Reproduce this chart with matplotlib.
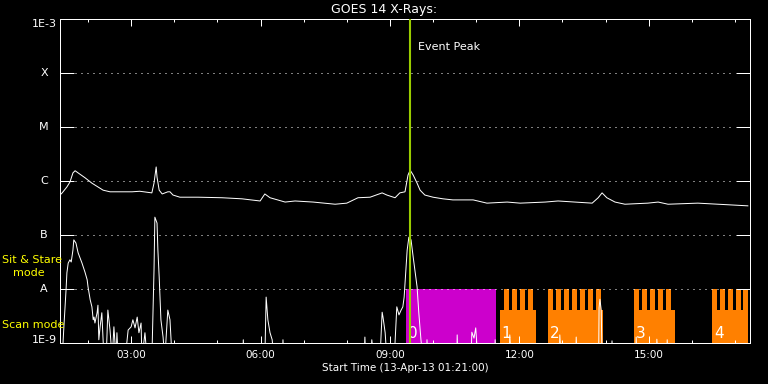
import numpy as np
import matplotlib
matplotlib.use("Agg")
import matplotlib.pyplot as plt
from matplotlib.ticker import FixedLocator, NullLocator, FixedFormatter

# GOES 14 X-ray flux, time in hours since 00:00 on 13-Apr-13, flux as log10(W/m^2)
T_START = 1.35   # 01:21
T_END = 17.35
EVENT_PEAK = 9.47

LONG_T = [1.35, 1.40, 1.51, 1.58, 1.65, 1.70, 1.77, 1.93, 2.09, 2.23, 2.35, 2.51, 3.02, 3.20,
          3.48, 3.53, 3.58, 3.60, 3.65, 3.72, 3.85, 3.90, 3.97, 4.13, 4.55, 5.11, 5.57, 5.99,
          6.10, 6.22, 6.57, 6.80, 7.22, 7.73, 8.00, 8.26, 8.54, 8.82, 8.93, 9.12, 9.23, 9.35,
          9.42, 9.47, 9.54, 9.63, 9.70, 9.81, 10.00, 10.23, 10.46, 10.93, 11.25, 11.72, 12.02,
          12.60, 12.90, 13.29, 13.69, 13.83, 13.92, 14.03, 14.22, 14.45, 14.98, 15.22, 15.45,
          16.14, 16.84, 17.30]
LONG_LOG = [-6.26, -6.22, -6.11, -6.02, -5.85, -5.81, -5.85, -5.94, -6.04, -6.11, -6.17, -6.20,
            -6.20, -6.19, -6.22, -6.04, -5.74, -5.93, -6.17, -6.24, -6.20, -6.20, -6.26, -6.30,
            -6.30, -6.31, -6.33, -6.37, -6.24, -6.31, -6.39, -6.37, -6.39, -6.43, -6.41, -6.31,
            -6.30, -6.22, -6.26, -6.31, -6.22, -6.20, -5.89, -5.80, -5.89, -6.04, -6.17, -6.26,
            -6.30, -6.33, -6.35, -6.35, -6.41, -6.39, -6.41, -6.39, -6.37, -6.39, -6.41, -6.31,
            -6.22, -6.31, -6.39, -6.43, -6.41, -6.39, -6.43, -6.41, -6.44, -6.46]

SHORT_T = [1.35, 1.40, 1.44, 1.49, 1.51, 1.54, 1.58, 1.61, 1.65, 1.67, 1.72, 1.77, 1.86, 1.93,
           1.98, 2.00, 2.05, 2.09, 2.12, 2.14, 2.16, 2.21, 2.23, 2.25, 2.28, 2.32, 2.37, 2.42,
           2.46, 2.51, 2.56, 2.60, 2.65, 2.67, 2.70, 2.86, 2.93, 3.00, 3.04, 3.09, 3.14, 3.18,
           3.23, 3.25, 3.32, 3.37, 3.48, 3.53, 3.55, 3.60, 3.62, 3.65, 3.69, 3.74, 3.78, 3.85,
           3.90, 3.95,
           5.59, 5.60, 5.62,
           6.10, 6.13, 6.17, 6.22, 6.27, 6.31,
           6.51, 6.52, 6.54,
           8.40, 8.42, 8.44,
           8.56, 8.58, 8.63,
           8.77, 8.82, 8.84, 8.89, 8.93,
           9.10, 9.16, 9.21, 9.26, 9.30, 9.33, 9.37, 9.40, 9.44, 9.49, 9.54, 9.63, 9.67, 9.72, 9.77,
           9.85, 9.86, 9.88,
           10.55, 10.56, 10.58,
           10.88, 10.90, 10.95, 10.99, 11.04,
           11.43, 11.44, 11.46,
           11.77, 11.78, 11.81,
           12.93, 12.94, 12.97,
           13.31, 13.32, 13.34,
           13.84, 13.85, 13.87, 13.90, 13.92,
           14.14, 14.15, 14.17,
           14.70, 14.71, 14.73,
           15.18, 15.19, 15.22,
           15.42, 15.43, 15.45,
           17.35]
SHORT_LOG = [-9.3, -9.3, -8.70, -8.02, -7.70, -7.52, -7.46, -7.50, -7.28, -7.09, -7.15, -7.33,
             -7.52, -7.69, -7.83, -7.96, -8.20, -8.33, -8.57, -8.52, -8.63, -8.44, -8.30, -8.94,
             -8.70, -8.44, -9.3, -9.3, -8.39, -8.76, -9.3, -8.70, -9.3, -8.81, -9.3, -9.3, -8.76,
             -8.70, -8.57, -8.72, -8.52, -8.81, -8.63, -9.3, -8.81, -9.3, -9.3, -7.65, -6.67,
             -6.78, -7.28, -7.78, -8.57, -8.89, -9.3, -8.39, -8.57, -9.3,
             -9.3, -8.94, -9.3,
             -9.3, -8.15, -8.57, -8.81, -8.94, -9.3,
             -9.3, -8.94, -9.3,
             -9.3, -8.89, -9.3,
             -9.3, -8.94, -9.3,
             -9.3, -8.43, -8.52, -8.81, -9.3,
             -9.3, -8.33, -8.48, -8.39, -8.33, -8.15, -7.65, -7.28, -7.04, -7.09, -7.41, -7.96,
             -8.44, -8.94, -9.3,
             -9.3, -8.94, -9.3,
             -9.3, -8.85, -9.3,
             -9.3, -8.80, -8.91, -8.72, -9.3,
             -9.3, -8.94, -9.3,
             -9.3, -8.85, -9.3,
             -9.3, -8.85, -9.3,
             -9.3, -8.89, -9.3,
             -9.3, -8.35, -8.19, -8.39, -9.3,
             -9.3, -8.96, -9.3,
             -9.3, -8.89, -9.3,
             -9.3, -8.93, -9.3,
             -9.3, -8.94, -9.3,
             -9.3]

# observing modes
SIT_STARE = (9.37, 11.46)
SCAN_BLOCKS = [(11.55, 12.39), (12.67, 13.94), (14.66, 15.61), (16.47, 17.30)]
SCAN_TEETH = [[11.65, 11.83, 12.02, 12.20],
              [12.67, 12.86, 13.04, 13.23, 13.41, 13.60, 13.79],
              [14.66, 14.85, 15.03, 15.22, 15.40],
              [16.47, 16.66, 16.84, 17.03, 17.19]]
TOOTH_W = 0.116
SCAN_BASE = 4.1e-9
BLOCK_LABELS = ["0", "1", "2", "3", "4"]

LEVELS = [1e-9, 1e-8, 1e-7, 1e-6, 1e-5, 1e-4, 1e-3]
LEVEL_NAMES = ["1E-9", "A", "B", "C", "M", "X", "1E-3"]
HOUR_TICKS = [3, 6, 9, 12, 15]
HOUR_LABELS = ["03:00", "06:00", "09:00", "12:00", "15:00"]

W, H = 768, 384
MAGENTA = "#cc00cc"
ORANGE = "#ff8000"
GREEN = "#99cc00"
YELLOW = "#ffff00"
LW = 0.72  # 1 px

plt.rcParams['font.family'] = ['DejaVu Sans']

fig = plt.figure(figsize=(W / 100, H / 100), dpi=100, facecolor="black")
ax = fig.add_axes([60 / W, 1 - 343 / H, 690 / W, 324 / H], facecolor="black")
ax.set_yscale("log")
ax.set_xlim(T_START, T_END)
ax.set_ylim(1e-9, 1e-3)

# sit & stare / scan mode coverage
ax.fill_between(SIT_STARE, 1e-10, 1e-8, color=MAGENTA, lw=0, zorder=1)
for (s, e), teeth in zip(SCAN_BLOCKS, SCAN_TEETH):
    ax.fill_between([s, e], 1e-10, SCAN_BASE, color=ORANGE, lw=0, zorder=1)
    for t in teeth:
        ax.fill_between([t, min(t + TOOTH_W, e)], 1e-10, 1e-8, color=ORANGE, lw=0, zorder=1)

starts = [SIT_STARE[0]] + [b[0] for b in SCAN_BLOCKS]
for s, lab in zip(starts, BLOCK_LABELS):
    ax.text(s + 0.04, 1.25e-9, lab, color="white", fontsize=11, ha="left", va="baseline", zorder=4)

# dotted class levels
for lv in LEVELS[1:-1]:
    ax.axhline(lv, xmin=0.022, xmax=0.978, color="white", lw=LW, ls=(0, (1, 5)), zorder=2)

ax.plot(LONG_T, 10 ** np.array(LONG_LOG), color="white", lw=LW, zorder=3)
ax.plot(SHORT_T, 10 ** np.array(SHORT_LOG), color="white", lw=LW, zorder=3)

ax.axvline(EVENT_PEAK, color=GREEN, lw=1.5, zorder=5)
ax.text(EVENT_PEAK + 0.18, 3e-4, "Event Peak", color="white", fontsize=8, va="center", ha="left")

# axes styling
for sp in ax.spines.values():
    sp.set_color("white")
    sp.set_linewidth(LW)

ax.yaxis.set_major_locator(FixedLocator(LEVELS))
ax.yaxis.set_minor_locator(NullLocator())
ax.set_yticklabels([])
ax.tick_params(axis="y", which="major", direction="in", length=10, width=LW, color="white",
               left=True, right=True)

ax.xaxis.set_major_locator(FixedLocator(HOUR_TICKS))
ax.xaxis.set_major_formatter(FixedFormatter(HOUR_LABELS))
ax.xaxis.set_minor_locator(FixedLocator(list(range(2, 18))))
ax.tick_params(axis="x", which="major", direction="in", length=5, width=LW, color="white",
               top=True, bottom=True, labelcolor="white", labelsize=7.5, pad=5)
ax.tick_params(axis="x", which="minor", direction="in", length=2.2, width=LW, color="white",
               top=True, bottom=True)

ytr = ax.get_yaxis_transform()
for lv, name in zip(LEVELS, LEVEL_NAMES):
    va = "center"
    if name == "1E-3":
        va = "top"
    elif name == "1E-9":
        va = "baseline"
    ax.text(-16 / 690, lv, name, transform=ytr, color="white", fontsize=8, ha="center", va=va)

fig.text(2 / W, 1 - 263 / H, "Sit & Stare", color=YELLOW, fontsize=8, ha="left", va="baseline")
fig.text(13 / W, 1 - 276 / H, "mode", color=YELLOW, fontsize=8, ha="left", va="baseline")
fig.text(2 / W, 1 - 328 / H, "Scan mode", color=YELLOW, fontsize=8, ha="left", va="baseline")

fig.text(0.5, 1 - 9.5 / H, "GOES 14 X-Rays:", color="white", fontsize=9, ha="center", va="center")
fig.text(405 / W, 1 - 368 / H, "Start Time (13-Apr-13 01:21:00)", color="white", fontsize=7.5,
         ha="center", va="center")

fig.savefig("out.png", dpi=100, facecolor="black")
